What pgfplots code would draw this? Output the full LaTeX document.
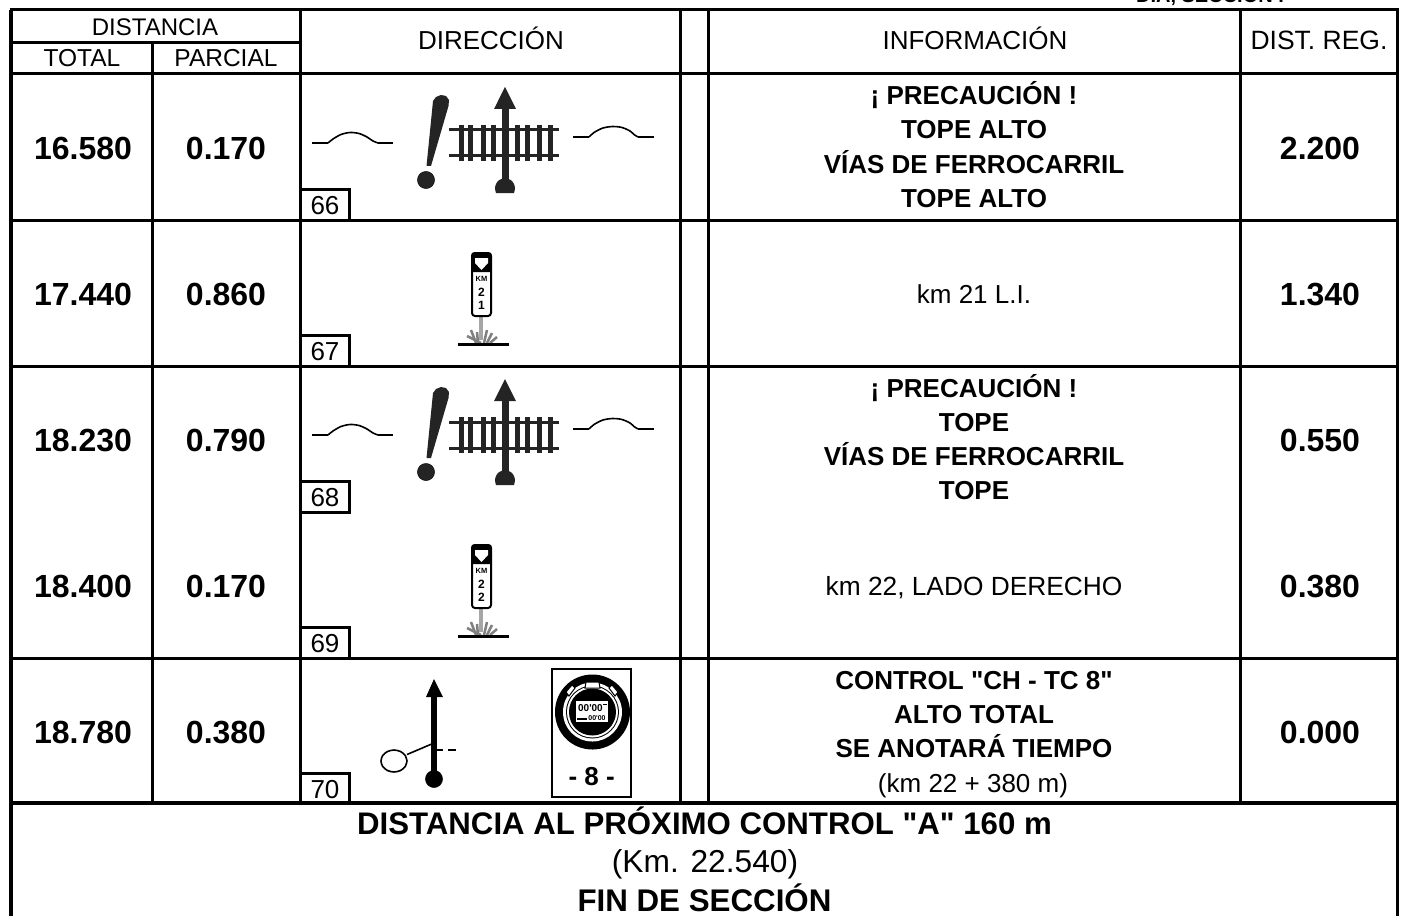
\documentclass[border=0pt]{standalone}
\usepackage{fontspec}
\setmainfont{Liberation Sans}[Ligatures=TeXOff]
\usepackage{pgfplots}
\pgfplotsset{compat=1.18}
\newcommand\T[5][]{\node[anchor=base,inner sep=0pt,outer sep=0pt] at (axis cs:#2,#3) {\fontsize{#4bp}{#4bp}\selectfont #1#5};}
\newcommand\Ln[2]{\addplot[black,line width=#1bp,line cap=butt] coordinates {#2};}
\newcommand\NumBox[2]{% number box: top, bottom
  \addplot[black,line width=3bp] coordinates {(300,#1) (349.5,#1) (349.5,#2)};}
\newcommand\Disc[4]{\addplot[only marks,mark=*,mark size=#3bp,mark options={draw=none,fill=#4}] coordinates {(#1,#2)};}
\newcommand\DiscS[5]{\addplot[only marks,mark=*,mark size=#3bp,yshift=-#5bp,mark options={draw=none,fill=#4}] coordinates {(#1,#2)};}
% a disc drawn in order, as a very short line with round caps: x, y, diameter, colour
\newcommand\DiscL[4]{\addplot[#4,line width=#3bp,line cap=round] coordinates {(#1,#2) (#1,#2.01)};}
\newcommand\Bumps[1]{%
  \addplot[black,line width=1.6bp,yshift=-#1bp] coordinates {(312,143) (328,143)};
  \addplot[black,line width=1.6bp,yshift=-#1bp] coordinates {(378,143) (393,143)};
  \addplot[black,line width=1.6bp,smooth,yshift=-#1bp] coordinates {(328,143) (333,139) (341,134.5) (350,132.5) (359,133.5) (367,137) (373,141) (378,143)};
  \addplot[black,line width=1.6bp,yshift=-#1bp] coordinates {(573,137) (589,137)};
  \addplot[black,line width=1.6bp,yshift=-#1bp] coordinates {(638,137) (654,137)};
  \addplot[black,line width=1.6bp,smooth,yshift=-#1bp] coordinates {(589,137) (594,132.5) (603,128) (613,126.5) (622,127.5) (630,131) (634,134.5) (638,137)};
}
\colorlet{ic}{black!86}
\newcommand\Rail[1]{%
  \addplot[draw=none,fill=ic,yshift=-#1bp] coordinates {(433,101) (436,97) (441,95) (446,96) (449,100) (448.5,106) (431,166) (426.5,166)} --cycle;
  \DiscS{426}{180}{8.6}{ic}{#1}
  \addplot[ic,line width=3bp,yshift=-#1bp] coordinates {(449,130) (559,130)};
  \addplot[ic,line width=3bp,yshift=-#1bp] coordinates {(449,156) (559,156)};
  \addplot[ic,line width=5bp,yshift=-#1bp] coordinates {(461,125) (461,161)};
  \addplot[ic,line width=5bp,yshift=-#1bp] coordinates {(470.5,125) (470.5,161)};
  \addplot[ic,line width=5bp,yshift=-#1bp] coordinates {(483,125) (483,161)};
  \addplot[ic,line width=5bp,yshift=-#1bp] coordinates {(493,125) (493,161)};
  \addplot[ic,line width=5bp,yshift=-#1bp] coordinates {(517,125) (517,161)};
  \addplot[ic,line width=5bp,yshift=-#1bp] coordinates {(527,125) (527,161)};
  \addplot[ic,line width=5bp,yshift=-#1bp] coordinates {(539,125) (539,161)};
  \addplot[ic,line width=5bp,yshift=-#1bp] coordinates {(550,125) (550,161)};
  \addplot[ic,line width=7bp,yshift=-#1bp] coordinates {(505,105) (505,185)};
  \addplot[draw=none,fill=ic,yshift=-#1bp] coordinates {(505,87) (516,109) (494,109)} --cycle;
  \addplot[draw=none,fill=ic,smooth,yshift=-#1bp] coordinates {(496,193) (495,187) (498,181) (505,178) (512,181) (515,187) (514,193)} --cycle;
}
\newcommand\Km[3]{%
  \addplot[black!35,line width=4bp,yshift=-#1bp] coordinates {(480.5,317) (480.5,340)};
  \addplot[black!50,line width=2.5bp,yshift=-#1bp] coordinates {(481,343) (467,336)};
  \addplot[black!50,line width=2.5bp,yshift=-#1bp] coordinates {(476,343) (471,330)};
  \addplot[black!50,line width=2.5bp,yshift=-#1bp] coordinates {(478,343) (477,332)};
  \addplot[black!50,line width=2.5bp,yshift=-#1bp] coordinates {(484,343) (487,330)};
  \addplot[black!50,line width=2.5bp,yshift=-#1bp] coordinates {(487,343) (492,333)};
  \addplot[black!50,line width=2.5bp,yshift=-#1bp] coordinates {(490,343) (497,337)};
  \addplot[black,line width=3bp,yshift=-#1bp] coordinates {(458,344) (509,344)};
  \addplot[draw=black,fill=white,line width=2bp,rounded corners=3bp,yshift=-#1bp] coordinates {(472,253) (491,253) (491,316) (472,316)} --cycle;
  \addplot[draw=none,fill=black,rounded corners=2bp,yshift=-#1bp] coordinates {(471.5,252.5) (491.5,252.5) (491.5,272) (471.5,272)} --cycle;
  \addplot[draw=none,fill=white,yshift=-#1bp] coordinates {(475,258) (488,258) (488,263) (481.5,270) (475,263)} --cycle;
  \node[anchor=base,inner sep=0pt] at (axis cs:481.5,281+#1) {\fontsize{7.5bp}{7.5bp}\selectfont\bfseries KM};
  \node[anchor=base,inner sep=0pt] at (axis cs:481.5,296+#1) {\fontsize{12bp}{12bp}\selectfont\bfseries #2};
  \node[anchor=base,inner sep=0pt] at (axis cs:481.5,309.5+#1) {\fontsize{12bp}{12bp}\selectfont\bfseries #3};
}
\begin{document}
\begin{tikzpicture}
\useasboundingbox (0,0) rectangle (1402bp,916bp);
\begin{axis}[at={(0,0)},anchor=south west,scale only axis,width=1402bp,height=916bp,
  xmin=0,xmax=1402,ymin=0,ymax=916,y dir=reverse,hide axis,clip=true,clip mode=global]
% grid
\Ln{3}{(9.5,10) (1398.5,10)}
\Ln{3}{(11,43) (300,43)}
\Ln{3}{(11,74) (1397,74)}
\Ln{3}{(11,220) (1397,220)}
\Ln{3}{(11,366) (1397,366)}
\Ln{3}{(11,658) (1397,658)}
\Ln{4}{(11,803) (1397,803)}
\Ln{3}{(11,10) (11,916)}
\Ln{3}{(1397,10) (1397,916)}
\Ln{3}{(152,43) (152,803)}
\Ln{3}{(300,10) (300,803)}
\Ln{3}{(680,10) (680,803)}
\Ln{3}{(708,10) (708,803)}
\Ln{3}{(1240,10) (1240,803)}
% number boxes
\NumBox{189}{220}
\NumBox{335}{366}
\NumBox{481}{512}
\Ln{3}{(300,512) (351,512)}
\NumBox{627}{658}
\NumBox{773}{803}
% header text
\T{1210}{3}{20}{\bfseries DÍA, SECCIÓN I}
\T{155}{36}{24}{DISTANCIA}
\T{82}{67}{24.5}{TOTAL}
\T{226}{67}{24.5}{PARCIAL}
\T{491}{50}{26}{DIRECCIÓN}
\T{975}{50}{26}{INFORMACIÓN}
\T{1319}{50}{26.5}{DIST. REG.}
% distances
\T{83}{159}{32}{\bfseries 16.580}\T{226}{159}{32}{\bfseries 0.170}\T{1320}{159}{32}{\bfseries 2.200}
\T{83}{305}{32}{\bfseries 17.440}\T{226}{305}{32}{\bfseries 0.860}\T{1320}{305}{32}{\bfseries 1.340}
\T{83}{451}{32}{\bfseries 18.230}\T{226}{451}{32}{\bfseries 0.790}\T{1320}{451}{32}{\bfseries 0.550}
\T{83}{597}{32}{\bfseries 18.400}\T{226}{597}{32}{\bfseries 0.170}\T{1320}{597}{32}{\bfseries 0.380}
\T{83}{743}{32}{\bfseries 18.780}\T{226}{743}{32}{\bfseries 0.380}\T{1320}{743}{32}{\bfseries 0.000}
% information
\T{974}{105}{26}{\bfseries ¡ PRECAUCIÓN !}
\T{974}{139}{26}{\bfseries TOPE ALTO}
\T{974}{173}{26}{\bfseries VÍAS DE FERROCARRIL}
\T{974}{207}{26}{\bfseries TOPE ALTO}
\T{974}{303}{26}{km 21 L.I.}
\T{974}{397}{26}{\bfseries ¡ PRECAUCIÓN !}
\T{974}{431}{26}{\bfseries TOPE}
\T{974}{465}{26}{\bfseries VÍAS DE FERROCARRIL}
\T{974}{499}{26}{\bfseries TOPE}
\T{974}{595}{26.3}{km 22, LADO DERECHO}
\T{974}{689}{26}{\bfseries CONTROL "CH - TC 8"}
\T{974}{723}{26}{\bfseries ALTO TOTAL}
\T{974}{757}{26}{\bfseries SE ANOTARÁ TIEMPO}
\T{973}{792}{26}{(km 22 + 380 m)}
% box numbers
\T{325}{214}{26}{66}
\T{325}{360}{26}{67}
\T{325}{506}{26}{68}
\T{325}{652}{26}{69}
\T{325}{798}{26}{70}
% footer
\T{704.5}{834}{31.2}{\bfseries DISTANCIA AL PRÓXIMO CONTROL "A" 160 m}
\T{705}{872}{31.7}{(Km. 22.540)}
\T{704.5}{911}{31.3}{\bfseries FIN DE SECCIÓN}
% icons
\Bumps{0}
\Bumps{292}
\Rail{0}
\Rail{292}
\Km{0}{2}{1}
\Km{292}{2}{2}
% icon 70
\Ln{5.5}{(434,695) (434,778)}
\addplot[draw=none,fill=black] coordinates {(434,679) (443,697) (426,697)} --cycle;
\Disc{434}{779}{8.6}{black}
\Ln{1.6}{(431.7,744) (407,754.5)}
\addplot[black,line width=1.6bp,smooth] coordinates {(407,761) (405.3,755.5) (400.5,751.5) (394,750) (387.5,751.5) (382.7,755.5) (381,761) (382.7,766.5) (387.5,770.5) (394,772) (400.5,770.5) (405.3,766.5) (407,761)};
\Ln{2}{(437,749.5) (443,749.5)}
\Ln{2}{(448,749.5) (456,749.5)}
% stopwatch
\addplot[black,line width=2bp] coordinates {(552,669) (631,669) (631,797) (552,797)} --cycle;
\DiscL{592}{712}{75}{black}
\DiscL{592}{712}{59}{white}
\DiscL{592}{712}{53}{black}
\DiscL{592}{712}{51}{white}
\DiscL{592}{712}{47}{black}
\addplot[draw=black,fill=white,line width=1bp] coordinates {(586,682) (599,682) (600,688) (585,688)} --cycle;
\addplot[draw=black,fill=white,line width=1bp] coordinates {(566,692) (572,685) (575,688) (569,696)} --cycle;
\addplot[draw=black,fill=white,line width=1bp] coordinates {(618,692) (612,685) (609,688) (615,696)} --cycle;
\addplot[draw=none,fill=white] coordinates {(576,701) (608,701) (608,722) (576,722)} --cycle;
\node[anchor=base,inner sep=0pt] at (axis cs:590.5,711) {\fontsize{10bp}{10bp}\selectfont\bfseries 00'00};
\node[anchor=base,inner sep=0pt] at (axis cs:597,720) {\fontsize{7bp}{7bp}\selectfont\bfseries 00'00};
\Ln{1.5}{(577,719) (587,719)}
\Ln{1}{(603,704) (607,704)}
\T{591.7}{785}{26}{\bfseries - 8 -}
\end{axis}
\end{tikzpicture}
\end{document}
